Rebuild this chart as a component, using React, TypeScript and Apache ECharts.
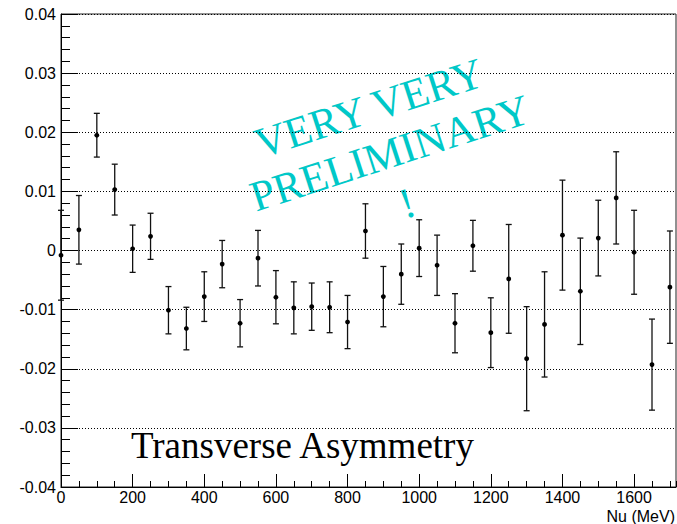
import React, { useEffect, useRef } from "react";
import * as echarts from "echarts";

// Beam energy bins (MeV)
const nu = [
  0, 50, 100, 150, 200, 250, 300, 350, 400, 450, 500, 550, 600, 650, 700, 750, 800, 850,
  900, 950, 1000, 1050, 1100, 1150, 1200, 1250, 1300, 1350, 1400, 1450, 1500, 1550, 1600,
  1650, 1700,
];

// Measured asymmetry per bin
const asymmetry = [
  -0.0008, 0.0035, 0.0195, 0.0103, 0.0003, 0.0024, -0.0101, -0.0132, -0.0078, -0.0023,
  -0.0123, -0.0013, -0.0079, -0.0097, -0.0095, -0.0096, -0.0121, 0.0033, -0.0078, -0.004,
  0.0004, -0.0025, -0.0123, 0.0008, -0.0139, -0.0048, -0.0183, -0.0125, 0.0026, -0.0069,
  0.0021, 0.0089, -0.0003, -0.0193, -0.0062,
];

// Statistical uncertainty per bin
const errors = [
  0.0076, 0.0058, 0.0037, 0.0043, 0.004, 0.0039, 0.004, 0.0036, 0.0042, 0.004, 0.004,
  0.0047, 0.0045, 0.0044, 0.004, 0.0043, 0.0045, 0.0046, 0.0051, 0.0051, 0.0048, 0.0051,
  0.005, 0.0043, 0.0059, 0.0092, 0.0088, 0.0089, 0.0093, 0.009, 0.0064, 0.0078, 0.0071,
  0.0077, 0.0095,
];

const X_MAX = 1717;
const SANS = '"Liberation Sans", Arial, sans-serif';
const SERIF = '"Liberation Serif", "Times New Roman", serif';
const CYAN = "#00c8c8";
const TILT = (18 * Math.PI) / 180;

export default function App() {
  const ref = useRef<HTMLDivElement>(null);

  useEffect(() => {
    if (!ref.current) return;
    const chart = echarts.init(ref.current, null, { renderer: "svg" });

    const points = nu.map((x, i) => [x, asymmetry[i], errors[i]]);

    const option: any = {
      animation: false,
      grid: {
        left: 61,
        top: 14,
        right: 1,
        bottom: 37,
        show: true,
        borderColor: "#222",
        borderWidth: 1,
      },
      xAxis: [
        {
          type: "value",
          min: 0,
          max: X_MAX,
          interval: 200,
          position: "bottom",
          axisLine: { onZero: false, lineStyle: { color: "#000", width: 1 } },
          axisTick: { inside: true, length: 13, lineStyle: { color: "#000" } },
          axisLabel: {
            showMaxLabel: false,
            color: "#000",
            fontFamily: SANS,
            fontSize: 16,
            margin: 2,
            formatter: (v: number) => String(v),
          },
          splitLine: { show: false },
        },
        {
          type: "value",
          min: 0,
          max: X_MAX,
          interval: 50,
          position: "bottom",
          axisLine: { show: false, onZero: false },
          axisTick: { inside: true, length: 6, lineStyle: { color: "#000" } },
          axisLabel: { show: false },
          splitLine: { show: false },
        },
      ],
      yAxis: {
        type: "value",
        min: -0.04,
        max: 0.04,
        interval: 0.01,
        axisLine: { show: true, onZero: false, lineStyle: { color: "#000", width: 1 } },
        axisTick: { show: true, inside: true, length: 17, lineStyle: { color: "#000" } },
        minorTick: {
          show: true,
          splitNumber: 5,
          length: 9,
          lineStyle: { color: "#000" },
        },
        axisLabel: {
          color: "#000",
          fontFamily: SANS,
          fontSize: 16,
          margin: 5,
          formatter: (v: number) => String(Math.round(v * 100) / 100),
        },
        splitLine: {
          show: true,
          lineStyle: { color: "#000", type: [1, 2], width: 1 },
        },
      },
      series: [
        {
          type: "custom",
          xAxisIndex: 0,
          yAxisIndex: 0,
          data: points,
          renderItem: (params: any, api: any) => {
            const x = api.value(0);
            const y = api.value(1);
            const e = api.value(2);
            const c = api.coord([x, y]);
            const hi = api.coord([x, y + e]);
            const lo = api.coord([x, y - e]);
            const cap = 3;
            const ls = { stroke: "#111", lineWidth: 1.3 };
            return {
              type: "group",
              children: [
                { type: "line", shape: { x1: c[0], y1: hi[1], x2: c[0], y2: lo[1] }, style: ls },
                { type: "line", shape: { x1: c[0] - cap, y1: hi[1], x2: c[0] + cap, y2: hi[1] }, style: ls },
                { type: "line", shape: { x1: c[0] - cap, y1: lo[1], x2: c[0] + cap, y2: lo[1] }, style: ls },
                { type: "circle", shape: { cx: c[0], cy: c[1], r: 2.4 }, style: { fill: "#000" } },
              ],
            };
          },
        },
      ],
      graphic: [
        {
          type: "text",
          x: 675,
          y: 524,
          style: {
            text: "Nu (MeV)",
            fill: "#000",
            font: `16px ${SANS}`,
            align: "right",
            verticalAlign: "bottom",
          },
        },
        {
          type: "text",
          x: 131,
          y: 445,
          style: {
            text: "Transverse Asymmetry",
            fill: "#000",
            font: `37px ${SERIF}`,
            align: "left",
            verticalAlign: "middle",
          },
        },
        {
          type: "text",
          x: 369,
          y: 108,
          rotation: TILT,
          style: {
            text: "VERY VERY",
            fill: CYAN,
            font: `43px ${SERIF}`,
            align: "center",
            verticalAlign: "middle",
          },
        },
        {
          type: "text",
          x: 390,
          y: 153,
          rotation: TILT,
          style: {
            text: "PRELIMINARY",
            fill: CYAN,
            font: `43px ${SERIF}`,
            align: "center",
            verticalAlign: "middle",
          },
        },
        {
          type: "text",
          x: 407,
          y: 203,
          rotation: TILT,
          style: {
            text: "!",
            fill: CYAN,
            font: `43px ${SERIF}`,
            align: "center",
            verticalAlign: "middle",
          },
        },
      ],
    };

    chart.setOption(option);
    return () => chart.dispose();
  }, []);

  return (
    <div
      ref={ref}
      style={{ position: "absolute", left: 0, top: 0, width: 677, height: 524, background: "#fff" }}
    />
  );
}
